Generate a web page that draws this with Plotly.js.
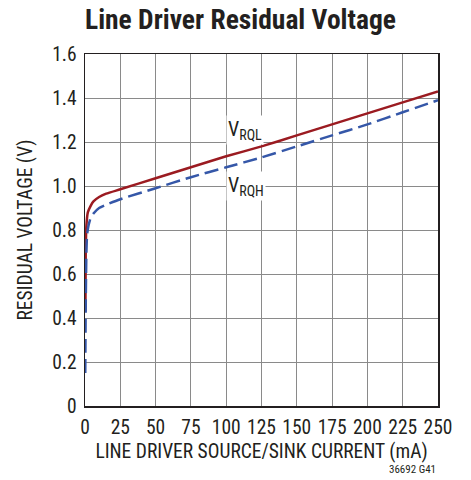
<!DOCTYPE html>
<html><head><meta charset="utf-8">
<script src="https://cdn.plot.ly/plotly-3.0.1.min.js"></script>
<style>html,body{margin:0;padding:0;background:#fff}#c{width:471px;height:480px}</style>
</head><body><div id="c"></div>
<script>
var vrqlX = [0.3, 0.5, 1, 2, 4, 6, 10, 15, 25, 50, 75, 100, 125, 150, 175, 200, 225, 250];
var vrqlY = [0.43, 0.70, 0.82, 0.88, 0.91, 0.93, 0.95, 0.965, 0.985, 1.035, 1.085, 1.135, 1.18, 1.23, 1.28, 1.33, 1.38, 1.43];
var vrqhX = [0.2, 0.5, 1, 1.5, 2.5, 4, 6, 10, 15, 25, 50, 75, 100, 125, 150, 175, 200, 225, 250];
var vrqhY = [0.15, 0.45, 0.70, 0.78, 0.82, 0.855, 0.875, 0.90, 0.915, 0.94, 0.99, 1.04, 1.085, 1.13, 1.18, 1.23, 1.28, 1.335, 1.39];
var xTicks = [0, 25, 50, 75, 100, 125, 150, 175, 200, 225, 250];
var yTicks = [0, 0.2, 0.4, 0.6, 0.8, 1.0, 1.2, 1.4, 1.6];
var yTickText = ["0", "0.2", "0.4", "0.6", "0.8", "1.0", "1.2", "1.4", "1.6"];

var F = "Roboto Condensed, Liberation Sans, sans-serif";
var traces = [
  {x: vrqlX, y: vrqlY, mode: "lines", line: {color: "#9b1b21", width: 2.5, shape: "spline", smoothing: 0.6}, hoverinfo: "skip"},
  {x: vrqhX, y: vrqhY, mode: "lines", line: {color: "#3557a8", width: 2.5, dash: "14px,6px", shape: "spline", smoothing: 0.6}, hoverinfo: "skip"}
];
var layout = {
  width: 471, height: 480,
  margin: {l: 85, r: 33, t: 54, b: 74},
  paper_bgcolor: "#fff", plot_bgcolor: "#fff",
  showlegend: false,
  title: {text: "<b>Line Driver Residual Voltage</b>", x: 0, xref: "paper", xanchor: "left", y: 0.96, yanchor: "middle", yref: "container",
          font: {family: F, size: 27.5, color: "#231f20"}},
  xaxis: {range: [0, 250], tickvals: xTicks, ticktext: xTicks.map(String), showgrid: true, gridcolor: "#8a8a8a", gridwidth: 1,
          showline: true, mirror: true, linecolor: "#231f20", linewidth: 1.5, zeroline: false, ticks: "", ticklabelstandoff: 3,
          tickfont: {family: F, size: 19.5, color: "#231f20"},
          title: {text: "LINE DRIVER SOURCE/SINK CURRENT (mA)", font: {family: F, size: 19.5, color: "#231f20"}, standoff: 6}},
  yaxis: {range: [0, 1.6], tickvals: yTicks, ticktext: yTickText, showgrid: true, gridcolor: "#8a8a8a", gridwidth: 1,
          showline: true, mirror: true, linecolor: "#231f20", linewidth: 1.5, zeroline: false, ticks: "", ticklabelstandoff: 3,
          tickfont: {family: F, size: 19.5, color: "#231f20"},
          title: {text: "RESIDUAL VOLTAGE (V)", font: {family: F, size: 19.5, color: "#231f20"}, standoff: 14}},
  annotations: [
    {x: 113, y: 1.255, xref: "x", yref: "y", text: "V<sub>RQL</sub>", showarrow: false, bgcolor: "#fff",
     font: {family: F, size: 20, color: "#231f20"}},
    {x: 114, y: 0.998, xref: "x", yref: "y", text: "V<sub>RQH</sub>", showarrow: false, bgcolor: "#fff",
     font: {family: F, size: 20, color: "#231f20"}},
    {x: 1, y: 0, xref: "paper", yref: "paper", xanchor: "right", yanchor: "top", yshift: -55, text: "36692 G41", showarrow: false,
     font: {family: F, size: 11, color: "#231f20"}}
  ]
};
Plotly.newPlot("c", traces, layout, {staticPlot: true});
</script></body></html>
